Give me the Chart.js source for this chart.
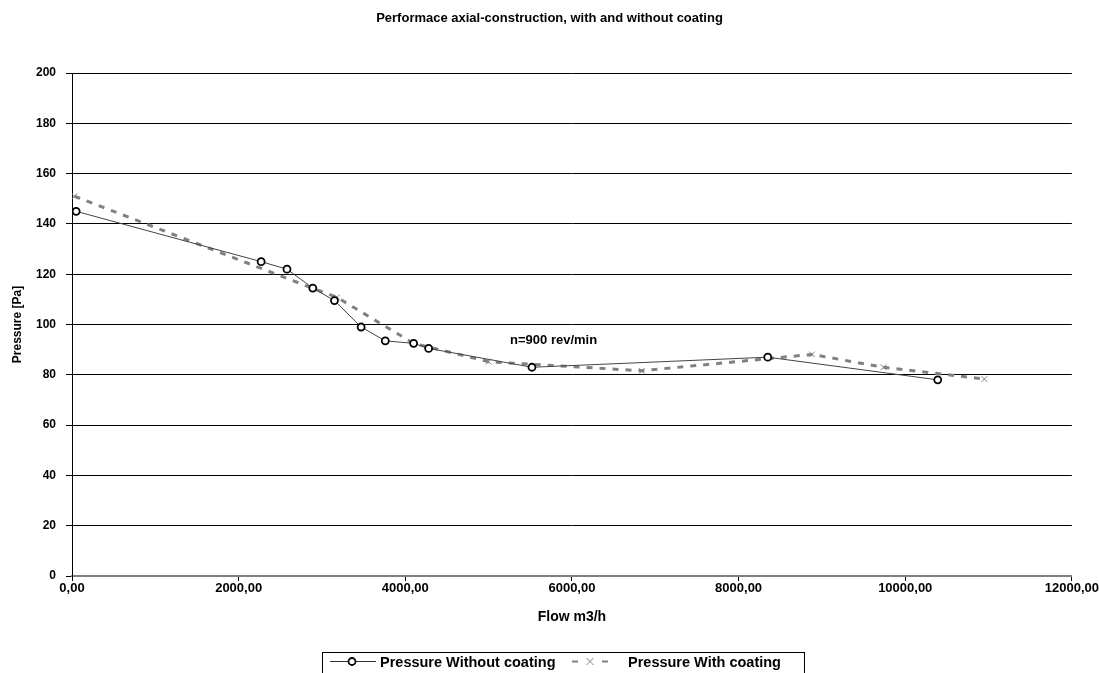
<!DOCTYPE html>
<html>
<head>
<meta charset="utf-8">
<script src="https://cdn.jsdelivr.net/npm/chart.js@4.4.1/dist/chart.umd.min.js"></script>
<style>
  html, body { margin: 0; padding: 0; background: #fff; }
  #wrap { width: 1099px; height: 673px; position: relative; }
</style>
</head>
<body>
<div id="wrap"><canvas id="myChart" width="1099" height="673"></canvas></div>
<script>
// values
const flowWithout = [50, 2270, 2580, 2890, 3150, 3470, 3760, 4100, 4280, 5520, 8350, 10390]
const pressureWithout = [145, 125, 122, 114.5, 109.5, 99, 93.5, 92.5, 90.5, 83, 87, 78]

const flowWith = [30, 2880, 3180, 4100, 5000, 6840, 8880, 9740, 10950]
const pressureWith = [151, 114.5, 110.8, 92.5, 85.2, 81.6, 88.1, 83, 78.3]

const labelWithout = 'Pressure Without coating'
const labelWith = 'Pressure With coating'
const noteText = 'n=900 rev/min'
const notePos = { x: 5780, y: 93.6 }

const toPoints = (xs, ys) => xs.map((x, i) => ({ x: x, y: ys[i] }))

const FONT = 'Arial, "Liberation Sans", sans-serif'

// text note + legend box drawn after the chart
const extras = {
    id: 'extras',
    afterDraw(chart) {
        const ctx = chart.ctx
        const xs = chart.scales.x
        const ys = chart.scales.y
        ctx.save()
        ctx.fillStyle = '#000'
        ctx.font = 'bold 13px ' + FONT
        ctx.textAlign = 'center'
        ctx.textBaseline = 'middle'
        ctx.fillText(noteText, xs.getPixelForValue(notePos.x), ys.getPixelForValue(notePos.y))

        // legend
        const left = 322, top = 652, h = 30
        ctx.strokeStyle = '#000'
        ctx.lineWidth = 1
        ctx.strokeRect(left + 0.5, top + 0.5, 482, h)
        const cy = top + 9.5
        ctx.font = 'bold 14.5px ' + FONT
        ctx.textAlign = 'left'

        // entry 1
        ctx.strokeStyle = '#333'
        ctx.beginPath()
        ctx.moveTo(left + 8, cy)
        ctx.lineTo(left + 54, cy)
        ctx.stroke()
        ctx.fillStyle = '#fff'
        ctx.strokeStyle = '#000'
        ctx.lineWidth = 1.8
        ctx.beginPath()
        ctx.arc(left + 30, cy, 3.5, 0, Math.PI * 2)
        ctx.fill()
        ctx.stroke()
        ctx.fillStyle = '#000'
        ctx.fillText(labelWithout, left + 58, cy + 1)

        // entry 2
        const l2 = left + 250
        ctx.strokeStyle = '#808080'
        ctx.lineWidth = 2
        ctx.beginPath()
        ctx.moveTo(l2, cy); ctx.lineTo(l2 + 6, cy)
        ctx.moveTo(l2 + 30, cy); ctx.lineTo(l2 + 36, cy)
        ctx.stroke()
        ctx.lineWidth = 1
        ctx.beginPath()
        ctx.moveTo(l2 + 14.5, cy - 3.5); ctx.lineTo(l2 + 21.5, cy + 3.5)
        ctx.moveTo(l2 + 21.5, cy - 3.5); ctx.lineTo(l2 + 14.5, cy + 3.5)
        ctx.stroke()
        ctx.fillStyle = '#000'
        ctx.fillText(labelWith, left + 306, cy + 1)
        ctx.restore()
    }
}

const data = {
    datasets: [{
        label: labelWithout,
        data: toPoints(flowWithout, pressureWithout),
        borderColor: '#444',
        borderWidth: 1,
        pointStyle: 'circle',
        pointRadius: 3.5,
        pointBorderColor: '#000',
        pointBorderWidth: 1.8,
        pointBackgroundColor: '#fff',
        tension: 0,
        order: 1,
    }, {
        label: labelWith,
        data: toPoints(flowWith, pressureWith),
        borderColor: '#808080',
        borderWidth: 3,
        borderDash: [6, 7],
        pointStyle: 'crossRot',
        pointRadius: 4,
        pointBorderColor: '#808080',
        pointBorderWidth: 1,
        tension: 0,
        order: 2,
    }]
}

const config = {
    type: 'line',
    data: data,
    plugins: [extras],
    options: {
        responsive: false,
        animation: false,
        layout: { padding: { left: 0, right: 0, bottom: 42, top: 0 } },
        plugins: {
            legend: { display: false },
            tooltip: { enabled: false },
            title: {
                display: true,
                text: 'Performace axial-construction, with and without coating',
                color: '#000',
                font: { family: FONT, size: 13, weight: 'bold' },
                padding: { top: 11, bottom: 46.4 },
            },
        },
        scales: {
            x: {
                type: 'linear',
                min: 0,
                max: 12000,
                afterFit: (s) => { s.height = 55 },
                ticks: {
                    stepSize: 2000,
                    color: '#000',
                    padding: 0,
                    maxRotation: 0,
                    font: { family: FONT, size: 13, weight: 'bold' },
                    callback: (v) => v.toFixed(2).replace('.', ','),
                },
                grid: { display: true, drawOnChartArea: false, color: '#000', tickLength: 5 },
                border: { color: '#808080', width: 2 },
                title: {
                    display: true,
                    text: 'Flow m3/h',
                    color: '#000',
                    font: { family: FONT, size: 14, weight: 'bold' },
                    padding: { top: 0, bottom: 5 },
                },
            },
            y: {
                min: 0,
                max: 200,
                afterFit: (s) => { s.width = 72 },
                ticks: {
                    stepSize: 20,
                    color: '#000',
                    padding: 10,
                    font: { family: FONT, size: 12, weight: 'bold' },
                },
                grid: { color: '#000', tickLength: 6, lineWidth: 1 },
                border: { color: '#000', width: 1 },
                title: {
                    display: true,
                    text: 'Pressure [Pa]',
                    color: '#000',
                    font: { family: FONT, size: 12, weight: 'bold' },
                    padding: { top: 10, bottom: 0 },
                },
            },
        },
    },
}

const myChart = new Chart(document.getElementById('myChart'), config)
</script>
</body>
</html>
